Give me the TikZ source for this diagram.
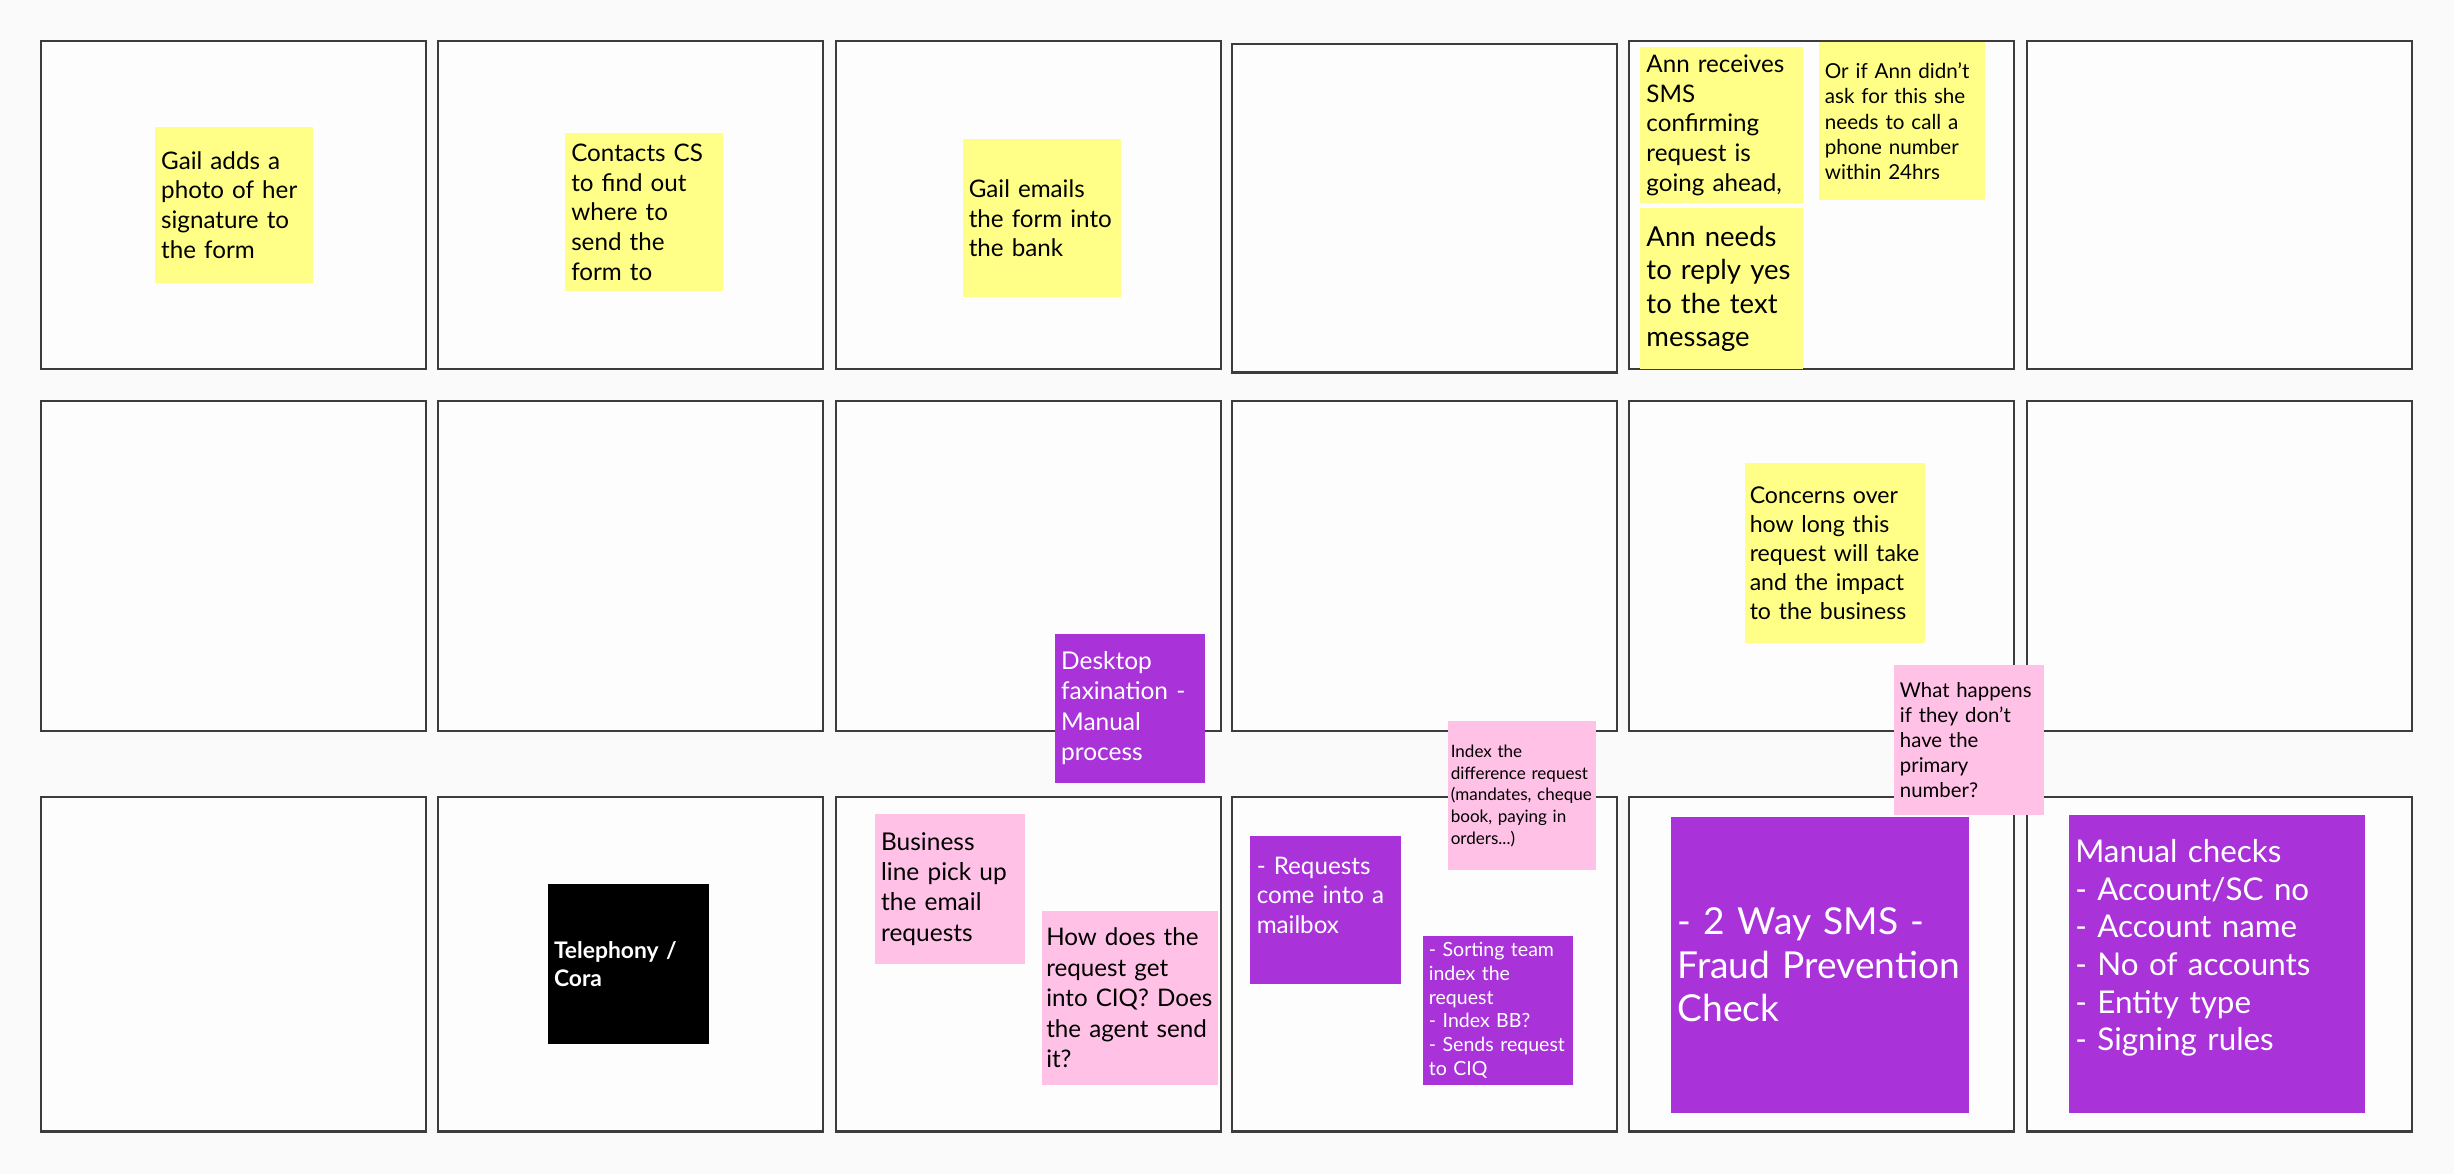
\documentclass[tikz,border=0pt]{standalone}
\usepackage{fontspec}
\setmainfont{Lato}
\usepackage{xcolor}
\usepackage{tikz}
\usetikzlibrary{positioning}

\definecolor{boardbg}{HTML}{FAFAFA}
\definecolor{framegray}{HTML}{3C3C3C}
\definecolor{noteyellow}{HTML}{FFFF88}
\definecolor{notepink}{HTML}{FFC2E6}
\definecolor{notepurple}{HTML}{A933D9}

\begin{document}
\begin{tikzpicture}[
    x=1mm, y=-1mm,
    frame/.style={rectangle, draw=framegray, line width=0.8pt, fill=white!60!boardbg, anchor=north west, inner sep=0pt, outer sep=0pt, minimum width=49.2mm, minimum height=42mm},
    note/.style={rectangle, anchor=north west, inner xsep=0.8mm, inner ysep=0pt, outer sep=0pt, align=left},
    yellownote/.style={note, fill=noteyellow, text=black},
    pinknote/.style={note, fill=notepink, text=black},
    purplenote/.style={note, fill=notepurple, text=white},
    blacknote/.style={note, fill=black, text=white, font=\fontsize{8.3}{10.2}\selectfont\bfseries},
    body/.style={font=\fontsize{8.8}{10.8}\selectfont}
  ]

    % Board
    \useasboundingbox[fill=boardbg] (0,0) rectangle (313.6,150);

    % Frames - top row
    \node[frame] (top-a) at (5.2,5.2) {};
    \node[frame] (top-b) at (56.0,5.2) {};
    \node[frame] (top-c) at (106.8,5.2) {};
    \node[frame] (top-d) at (157.4,5.6) {};
    \node[frame] (top-e) at (208.2,5.2) {};
    \node[frame] (top-f) at (259.0,5.2) {};

    % Frames - middle row
    \node[frame, minimum height=42.2mm] (mid-a) at (5.2,51.2) {};
    \node[frame, minimum height=42.2mm] (mid-b) at (56.0,51.2) {};
    \node[frame, minimum height=42.2mm] (mid-c) at (106.8,51.2) {};
    \node[frame, minimum height=42.2mm] (mid-d) at (157.4,51.2) {};
    \node[frame, minimum height=42.2mm] (mid-e) at (208.2,51.2) {};
    \node[frame, minimum height=42.2mm] (mid-f) at (259.0,51.2) {};

    % Frames - bottom row
    \node[frame, minimum height=42.8mm] (low-a) at (5.2,101.8) {};
    \node[frame, minimum height=42.8mm] (low-b) at (56.0,101.8) {};
    \node[frame, minimum height=42.8mm] (low-c) at (106.8,101.8) {};
    \node[frame, minimum height=42.8mm] (low-d) at (157.4,101.8) {};
    \node[frame, minimum height=42.8mm] (low-e) at (208.2,101.8) {};
    \node[frame, minimum height=42.8mm] (low-f) at (259.0,101.8) {};

    % Top row notes
    \node[yellownote, body, text width=18.6mm, minimum height=20mm] (gail-photo) at (19.8,16.2) {Gail adds a\\photo of her\\signature to\\the form};
    \node[yellownote, body, text width=18.6mm, minimum height=20.2mm] (contacts-cs) at (72.2,17.0) {Contacts CS\\to find out\\where to\\send the\\form to};
    \node[yellownote, body, text width=18.6mm, minimum height=20.2mm] (gail-email) at (123.0,17.8) {Gail emails\\the form into\\the bank};
    \node[yellownote, body, text width=19.2mm, minimum height=20mm] (ann-sms) at (209.6,6.0) {Ann receives\\SMS\\confirming\\request is\\going ahead,};
    \node[yellownote, text width=19.2mm, minimum height=20.6mm, font=\fontsize{10}{12.1}\selectfont, below=0.6mm of ann-sms] (ann-reply) {Ann needs\\to reply yes\\to the text\\message};
    \node[yellownote, text width=19.6mm, minimum height=20.2mm, font=\fontsize{7.5}{9.2}\selectfont] (ann-call) at (232.4,5.4) {Or if Ann didn't\\ask for this she\\needs to call a\\phone number\\within 24hrs};

    % Middle row notes
    \node[yellownote, inner xsep=0.6mm, text width=21.8mm, minimum height=23mm, font=\fontsize{8.4}{10.5}\selectfont] (concerns) at (223.0,59.2) {Concerns over\\how long this\\\mbox{request will take}\\and the impact\\to the business};
    \node[purplenote, body, text width=17.6mm, minimum height=19mm, font=\fontsize{8.9}{11}\selectfont] (faxination) at (134.8,81.0) {Desktop\\faxination -\\Manual\\process};
    \node[pinknote, inner xsep=0.4mm, text width=18.2mm, minimum height=19mm, font=\fontsize{6.2}{7.85}\selectfont] (index-diff) at (185.0,92.2) {Index the\\\mbox{difference request}\\\mbox{(mandates, cheque}\\book, paying in\\orders...)};
    \node[pinknote, text width=17.6mm, minimum height=19.2mm, font=\fontsize{7.4}{9.1}\selectfont] (no-number) at (242.0,85.0) {What happens\\if they don't\\have the\\primary\\number?};

    % Bottom row notes
    \node[blacknote, text width=19mm, minimum height=20.4mm] (telephony) at (70.0,113.0) {Telephony /\\Cora};
    \node[pinknote, text width=17.6mm, minimum height=19.2mm, font=\fontsize{8.9}{11}\selectfont] (business-line) at (111.8,104.0) {Business\\line pick up\\the email\\requests};
    \node[pinknote, inner xsep=0.5mm, text width=21.4mm, minimum height=22.2mm, font=\fontsize{8.8}{11.1}\selectfont] (into-ciq) at (133.2,116.4) {How does the\\request get\\\mbox{into CIQ? Does}\\\mbox{the agent send}\\it?};
    \node[purplenote, body, text width=17.6mm, minimum height=19mm] (mailbox) at (159.8,106.8) {- Requests\\come into a\\mailbox\\\mbox{}};
    \node[purplenote, text width=17.6mm, minimum height=19mm, font=\fontsize{7.1}{8.65}\selectfont] (sorting) at (181.8,119.6) {- Sorting team\\index the\\request\\- Index BB?\\- Sends request\\to CIQ};
    \node[purplenote, text width=36.4mm, minimum height=37.8mm, font=\fontsize{13.5}{15.9}\selectfont] (two-way-sms) at (213.6,104.4) {- 2 Way SMS -\\Fraud Prevention\\Check};
    \node[purplenote, text width=36.2mm, minimum height=38mm, font=\fontsize{11.4}{13.7}\selectfont] (manual-checks) at (264.4,104.2) {Manual checks\\- Account/SC no\\- Account name\\- No of accounts\\- Entity type\\- Signing rules\\\mbox{}};

  \end{tikzpicture}
\end{document}
